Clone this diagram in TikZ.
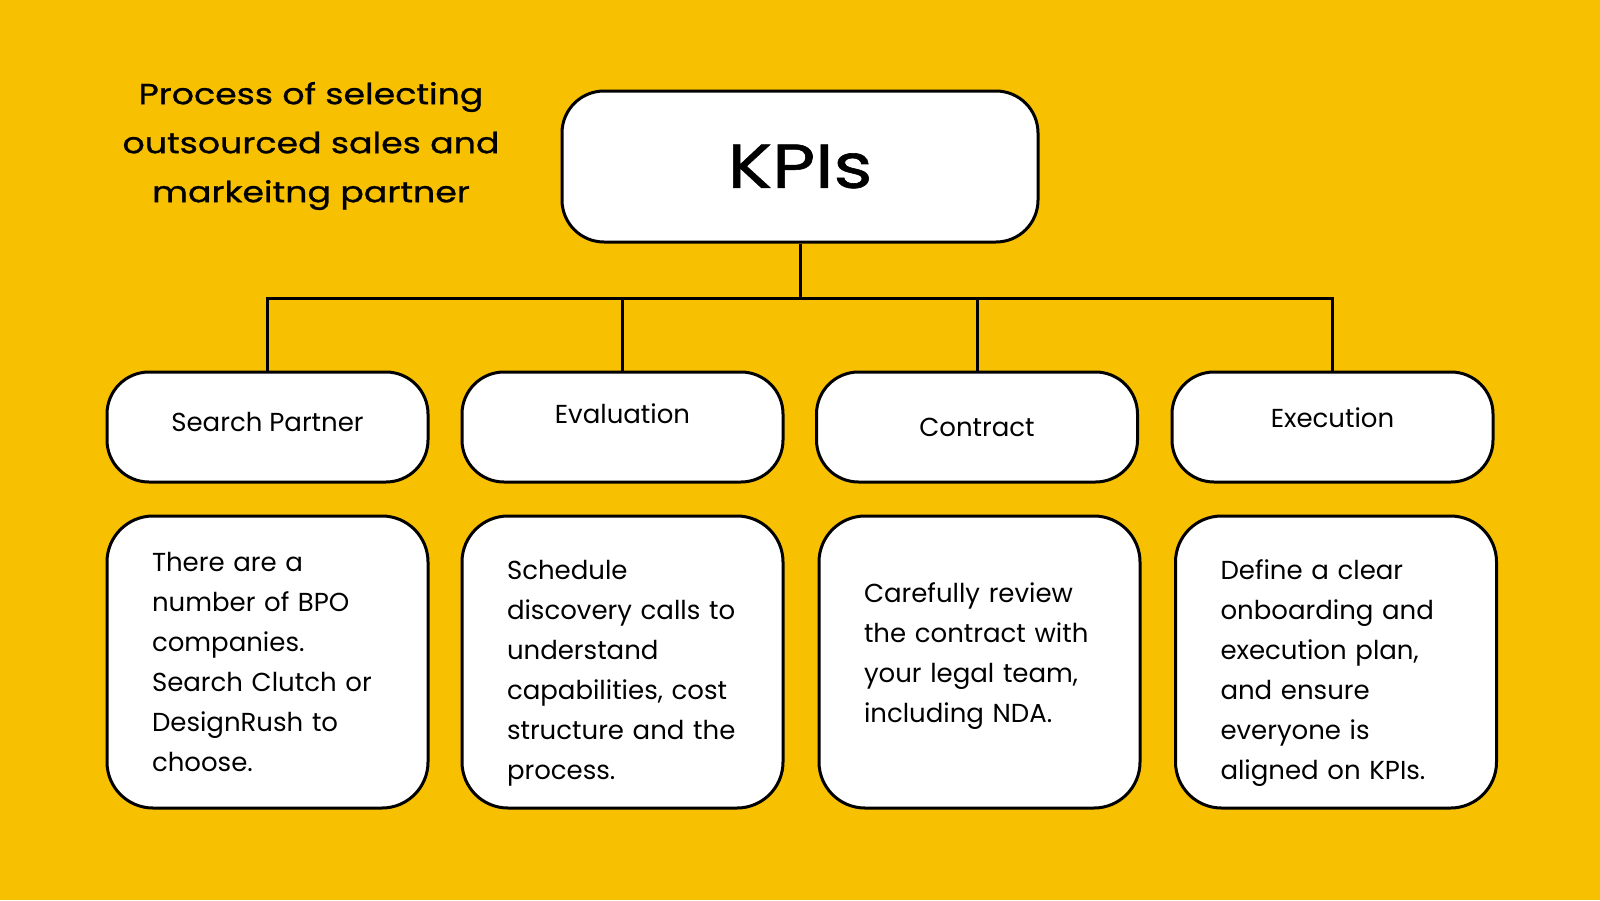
\documentclass[tikz,border=0pt]{standalone}
\usepackage{fontspec}
\setmainfont{Poppins}
\newfontfamily\titlefont{Poppins}[FakeBold=1.0,FakeStretch=1.2]
\definecolor{bgyellow}{HTML}{F7C000}
\newcommand\liftlines[2]{\raisebox{#1}[\height][\depth]{\parbox[c]{231pt}{\raggedright #2}}}
\begin{document}
\begin{tikzpicture}[x=1pt,y=-1pt,
  boxbase/.style={draw=black,line width=3pt,fill=white,rounded corners=42pt,inner sep=0pt},
  headbox/.style={boxbase,minimum width=321pt,minimum height=110pt,font=\fontsize{26}{40}\selectfont},
  descbox/.style={boxbase,rounded corners=46pt,minimum width=321pt,minimum height=292pt,text width=231pt,inner xsep=45pt,align=left,font=\fontsize{26}{40}\selectfont},
  link/.style={draw=black,line width=3pt}]
\fill[bgyellow] (0,0) rectangle (1600,900);
\useasboundingbox (0,0) rectangle (1600,900);

\node[align=center,font=\titlefont\fontsize{29}{49}\selectfont] (title) at (311,146)
  {Process of selecting\\outsourced sales and\\markeitng partner};

\node[boxbase,minimum width=476pt,minimum height=151pt,font=\titlefont\fontsize{62}{64}\selectfont] (kpi) at (800,166.5) {KPIs};

\node[headbox] (h1) at (267.5,427) {\raisebox{5pt}[\height][\depth]{Search Partner}};
\node[headbox] (h2) at (622.5,427) {\raisebox{13pt}[\height][\depth]{Evaluation}};
\node[headbox] (h3) at (977,427) {Contract};
\node[headbox] (h4) at (1332.5,427) {\raisebox{9pt}[\height][\depth]{Execution}};

\node[descbox] (d1) at (267.5,662) {There are a\\number of BPO\\companies.\\Search Clutch or\\DesignRush to\\choose.};
\node[descbox] (d2) at (622.5,662) {\liftlines{-11pt}{Schedule\\discovery calls to\\understand\\capabilities, cost\\structure and the\\process.}};
\node[descbox] (d3) at (979.5,662) {\liftlines{6pt}{Carefully review\\the contract with\\your legal team,\\including NDA.}};
\node[descbox] (d4) at (1336,662) {\liftlines{-11pt}{Define a clear\\onboarding and\\execution plan,\\and ensure\\everyone is\\aligned on KPIs.}};

\coordinate (bus) at (800,298);
\draw[link] (kpi.south) -- (bus);
\draw[link] (h1.north) |- (bus) -| (h4.north);
\draw[link] (h2.north) -- (h2.north |- bus);
\draw[link] (h3.north) -- (h3.north |- bus);
\end{tikzpicture}
\end{document}
